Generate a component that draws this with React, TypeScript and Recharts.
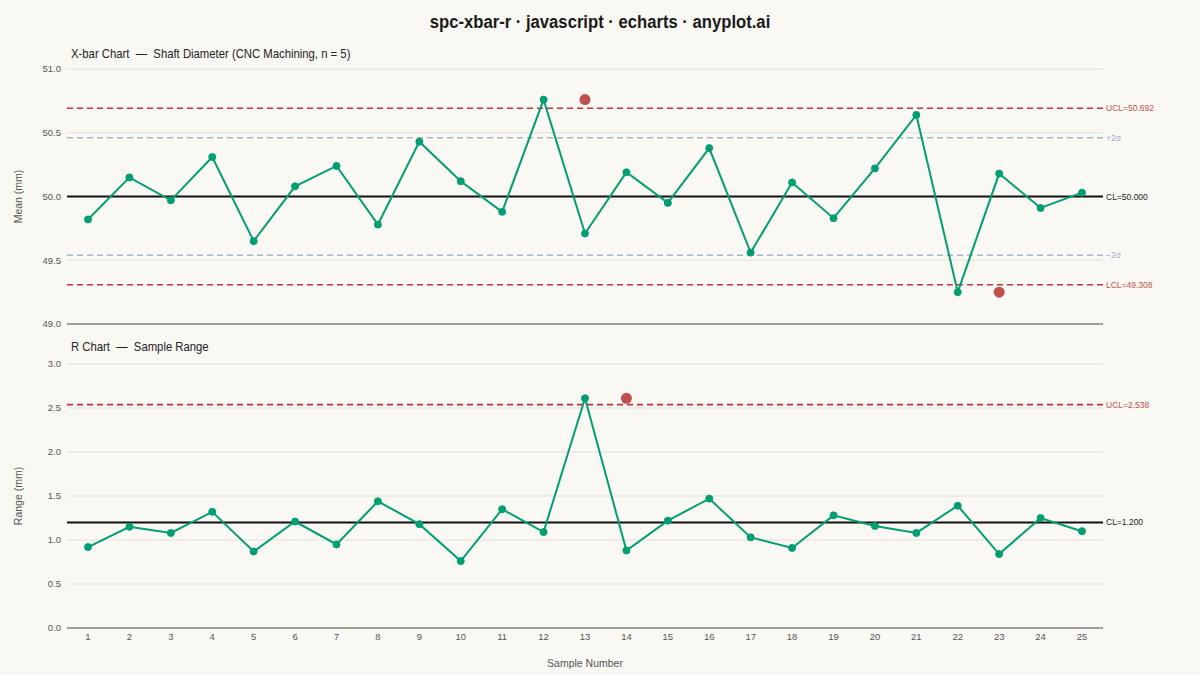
import React from "react";
import {
  LineChart,
  Line,
  XAxis,
  YAxis,
  CartesianGrid,
  ReferenceLine,
} from "recharts";

const samples = [
  1, 2, 3, 4, 5, 6, 7, 8, 9, 10, 11, 12, 13, 14, 15, 16, 17, 18, 19, 20, 21,
  22, 23, 24, 25,
];

const sampleMeans = [
  49.82, 50.15, 49.97, 50.31, 49.65, 50.08, 50.24, 49.78, 50.43, 50.12, 49.88,
  50.76, 49.71, 50.19, 49.95, 50.38, 49.56, 50.11, 49.83, 50.22, 50.64, 49.25,
  50.18, 49.91, 50.03,
];

const sampleRanges = [
  0.92, 1.15, 1.08, 1.32, 0.87, 1.21, 0.95, 1.44, 1.18, 0.76, 1.35, 1.09, 2.61,
  0.88, 1.22, 1.47, 1.03, 0.91, 1.28, 1.16, 1.08, 1.39, 0.84, 1.25, 1.1,
];

// out-of-control markers, as drawn in the reference (one sample to the right)
const meanAlertSamples = [13, 23];
const meanAlertValues = [50.76, 49.25];
const rangeAlertSamples = [14];
const rangeAlertValues = [2.61];

const meanTicks = [49.0, 49.5, 50.0, 50.5, 51.0];
const rangeTicks = [0.0, 0.5, 1.0, 1.5, 2.0, 2.5, 3.0];

const xbarCL = 50.0;
const xbarUCL = 50.692;
const xbarLCL = 49.308;
const xbarPlus2 = 50.461;
const xbarMinus2 = 49.539;
const rangeCL = 1.2;
const rangeUCL = 2.538;

const BG = "#FAF8F2";
const GREEN = "#009E73";
const ALERT = "#C0504D";
const LIMIT = "#C4323C";
const SIGMA = "#A6B4CE";
const SIGMA_TEXT = "#98A8CC";
const FONT = "'Liberation Sans', Arial, sans-serif";

const alertAt = (sampleList: number[], valueList: number[], s: number) => {
  const i = sampleList.indexOf(s);
  return i >= 0 ? valueList[i] : null;
};

const meanData = samples.map((s, i) => ({
  sample: s,
  mean: sampleMeans[i],
  alert: alertAt(meanAlertSamples, meanAlertValues, s),
}));

const rangeData = samples.map((s, i) => ({
  sample: s,
  range: sampleRanges[i],
  alert: alertAt(rangeAlertSamples, rangeAlertValues, s),
}));

const alertDot = (props: any) => {
  const { cx, cy, value, index } = props;
  if (value == null || cy == null) return <g key={`a${index}`} />;
  return <circle key={`a${index}`} cx={cx} cy={cy} r={5.5} fill={ALERT} />;
};

const tickStyle = { fill: "#555", fontSize: 9.5, fontFamily: FONT };
const refLabel = (value: string, fill: string) => ({
  value,
  position: "right" as const,
  offset: 3,
  fill,
  fontSize: 8.5,
  fontFamily: FONT,
});
const axisName = (value: string) => ({
  value,
  angle: -90,
  position: "insideLeft" as const,
  offset: 18,
  style: { textAnchor: "middle" },
  fill: "#555",
  fontSize: 10.5,
  fontFamily: FONT,
});

const subtitle = (top: number): React.CSSProperties => ({
  position: "absolute",
  left: 71,
  top,
  fontSize: 13,
  color: "#222",
  whiteSpace: "pre",
  transform: "scaleX(0.87)",
  transformOrigin: "left center",
});

export default function App() {
  return (
    <div
      style={{
        position: "absolute",
        left: 0,
        top: 0,
        width: 1200,
        height: 675,
        background: BG,
        fontFamily: FONT,
        overflow: "hidden",
      }}
    >
      <div
        style={{
          position: "absolute",
          top: 12,
          width: 1200,
          textAlign: "center",
          fontSize: 18,
          fontWeight: "bold",
          color: "#1a1a1a",
          transform: "scaleX(0.925)",
          transformOrigin: "600px center",
        }}
      >
        spc-xbar-r · javascript · echarts · anyplot.ai
      </div>
      <div style={subtitle(46)}>
        {"X-bar Chart  —  Shaft Diameter (CNC Machining, n = 5)"}
      </div>
      <div style={subtitle(339)}>{"R Chart  —  Sample Range"}</div>

      <div style={{ position: "absolute", left: 0, top: 0 }}>
        <LineChart
          width={1200}
          height={340}
          data={meanData}
          margin={{ top: 69, right: 97, bottom: 16, left: 0 }}
        >
          <CartesianGrid vertical={false} stroke="#E4E0D8" />
          <XAxis dataKey="sample" hide padding={{ left: 21, right: 21 }} />
          <YAxis
            width={67}
            domain={[49, 51]}
            ticks={meanTicks}
            tickFormatter={(v: number) => v.toFixed(1)}
            axisLine={false}
            tickLine={false}
            tickSize={4}
            tick={tickStyle}
            label={axisName("Mean (mm)")}
          />
          <ReferenceLine y={49} stroke="#555" strokeWidth={1} />
          <ReferenceLine
            y={xbarPlus2}
            stroke={SIGMA}
            strokeWidth={1.5}
            strokeDasharray="6 4"
            label={refLabel("+2σ", SIGMA_TEXT)}
          />
          <ReferenceLine
            y={xbarMinus2}
            stroke={SIGMA}
            strokeWidth={1.5}
            strokeDasharray="6 4"
            label={refLabel("−2σ", SIGMA_TEXT)}
          />
          <ReferenceLine
            y={xbarUCL}
            stroke={LIMIT}
            strokeWidth={1.6}
            strokeDasharray="6 4"
            label={refLabel("UCL=50.692", ALERT)}
          />
          <ReferenceLine
            y={xbarLCL}
            stroke={LIMIT}
            strokeWidth={1.6}
            strokeDasharray="6 4"
            label={refLabel("LCL=49.308", ALERT)}
          />
          <ReferenceLine
            y={xbarCL}
            stroke="#111"
            strokeWidth={2}
            label={refLabel("CL=50.000", "#222")}
          />
          <Line
            dataKey="mean"
            stroke={GREEN}
            strokeWidth={2}
            dot={{ r: 3.5, fill: GREEN, stroke: GREEN, strokeWidth: 1 }}
            isAnimationActive={false}
          />
          <Line
            dataKey="alert"
            stroke="none"
            dot={alertDot}
            activeDot={false}
            isAnimationActive={false}
          />
        </LineChart>
      </div>

      <div style={{ position: "absolute", left: 0, top: 340 }}>
        <LineChart
          width={1200}
          height={335}
          data={rangeData}
          margin={{ top: 24, right: 97, bottom: 0, left: 0 }}
        >
          <CartesianGrid vertical={false} stroke="#E4E0D8" />
          <XAxis
            dataKey="sample"
            height={47}
            padding={{ left: 21, right: 21 }}
            axisLine={{ stroke: "#555" }}
            tickLine={false}
            tickSize={3}
            tick={tickStyle}
            interval={0}
            label={{
              value: "Sample Number",
              position: "insideBottom",
              offset: 8,
              fill: "#555",
              fontSize: 10.5,
              fontFamily: FONT,
            }}
          />
          <YAxis
            width={67}
            domain={[0, 3]}
            ticks={rangeTicks}
            tickFormatter={(v: number) => v.toFixed(1)}
            axisLine={false}
            tickLine={false}
            tickSize={4}
            tick={tickStyle}
            label={axisName("Range (mm)")}
          />
          <ReferenceLine
            y={rangeUCL}
            stroke={LIMIT}
            strokeWidth={1.6}
            strokeDasharray="6 4"
            label={refLabel("UCL=2.538", ALERT)}
          />
          <ReferenceLine
            y={rangeCL}
            stroke="#111"
            strokeWidth={2}
            label={refLabel("CL=1.200", "#222")}
          />
          <Line
            dataKey="range"
            stroke={GREEN}
            strokeWidth={2}
            dot={{ r: 3.5, fill: GREEN, stroke: GREEN, strokeWidth: 1 }}
            isAnimationActive={false}
          />
          <Line
            dataKey="alert"
            stroke="none"
            dot={alertDot}
            activeDot={false}
            isAnimationActive={false}
          />
        </LineChart>
      </div>
    </div>
  );
}
